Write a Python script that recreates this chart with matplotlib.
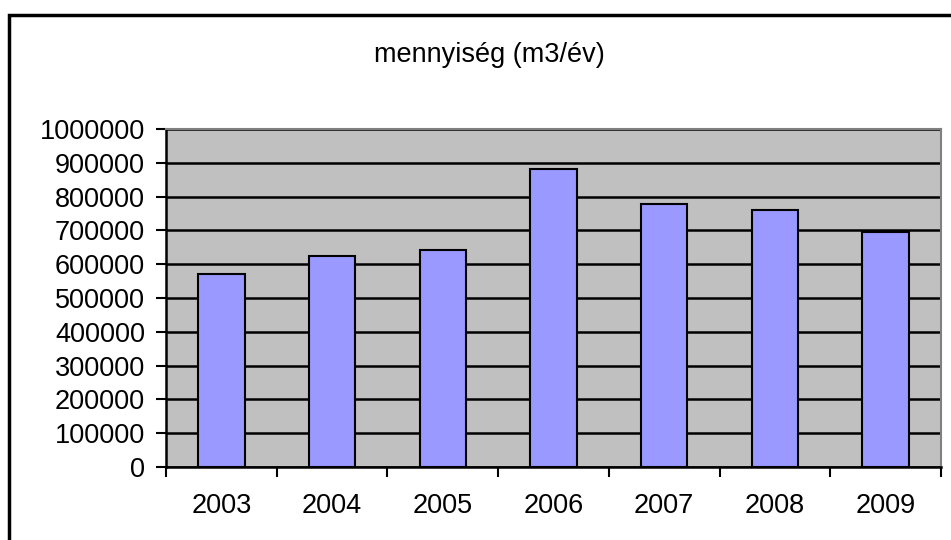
import matplotlib.pyplot as plt
from matplotlib.patches import Rectangle

years = ["2003", "2004", "2005", "2006", "2007", "2008", "2009"]
amounts = [571000, 624000, 642000, 882000, 779000, 760000, 694000]
y_ticks = [0, 100000, 200000, 300000, 400000, 500000, 600000, 700000, 800000, 900000, 1000000]

plt.rcParams["font.family"] = ["Liberation Sans", "DejaVu Sans"]

fig = plt.figure(figsize=(9.51, 5.40), dpi=100)
ax = fig.add_axes([166 / 951, 1 - 467 / 540, 775 / 951, 338 / 540])

# outer chart frame (only top and left visible)
fig.patches.append(Rectangle((9 / 951, -0.1), 1.2, 1 - 15 / 540 + 0.1,
                             transform=fig.transFigure, fill=False,
                             edgecolor="black", linewidth=2.5))

x = list(range(len(years)))
ax.set_facecolor("#C0C0C0")
ax.bar(x, amounts, width=0.42, color="#9999FF", edgecolor="black",
       linewidth=1.5, zorder=3)

ax.set_xlim(-0.5, len(years) - 0.5)
ax.set_ylim(0, 1000000)
ax.set_yticks(y_ticks)
ax.set_yticklabels([str(v) for v in y_ticks], fontsize=19.5)
ax.yaxis.grid(True, color="black", linewidth=1.8, zorder=1)
ax.set_axisbelow(True)

ax.set_xticks(x)
ax.set_xticklabels(years, fontsize=19.5)
ax.set_xticks([i + 0.5 for i in range(-1, len(years))], minor=True)
ax.tick_params(axis="x", which="major", length=0, pad=19)
ax.tick_params(axis="x", which="minor", length=7, width=1.5, color="black")
ax.tick_params(axis="y", length=7, width=1.5, color="black", pad=8)

for side in ["left", "bottom"]:
    ax.spines[side].set_color("black")
    ax.spines[side].set_linewidth(1.8)
for side in ["top", "right"]:
    ax.spines[side].set_color("#808080")
    ax.spines[side].set_linewidth(1.5)

fig.text(489 / 951, 1 - 55 / 540, "mennyiség (m3/év)", fontsize=19.5,
         ha="center", va="center")

fig.savefig("out.png", dpi=100)
